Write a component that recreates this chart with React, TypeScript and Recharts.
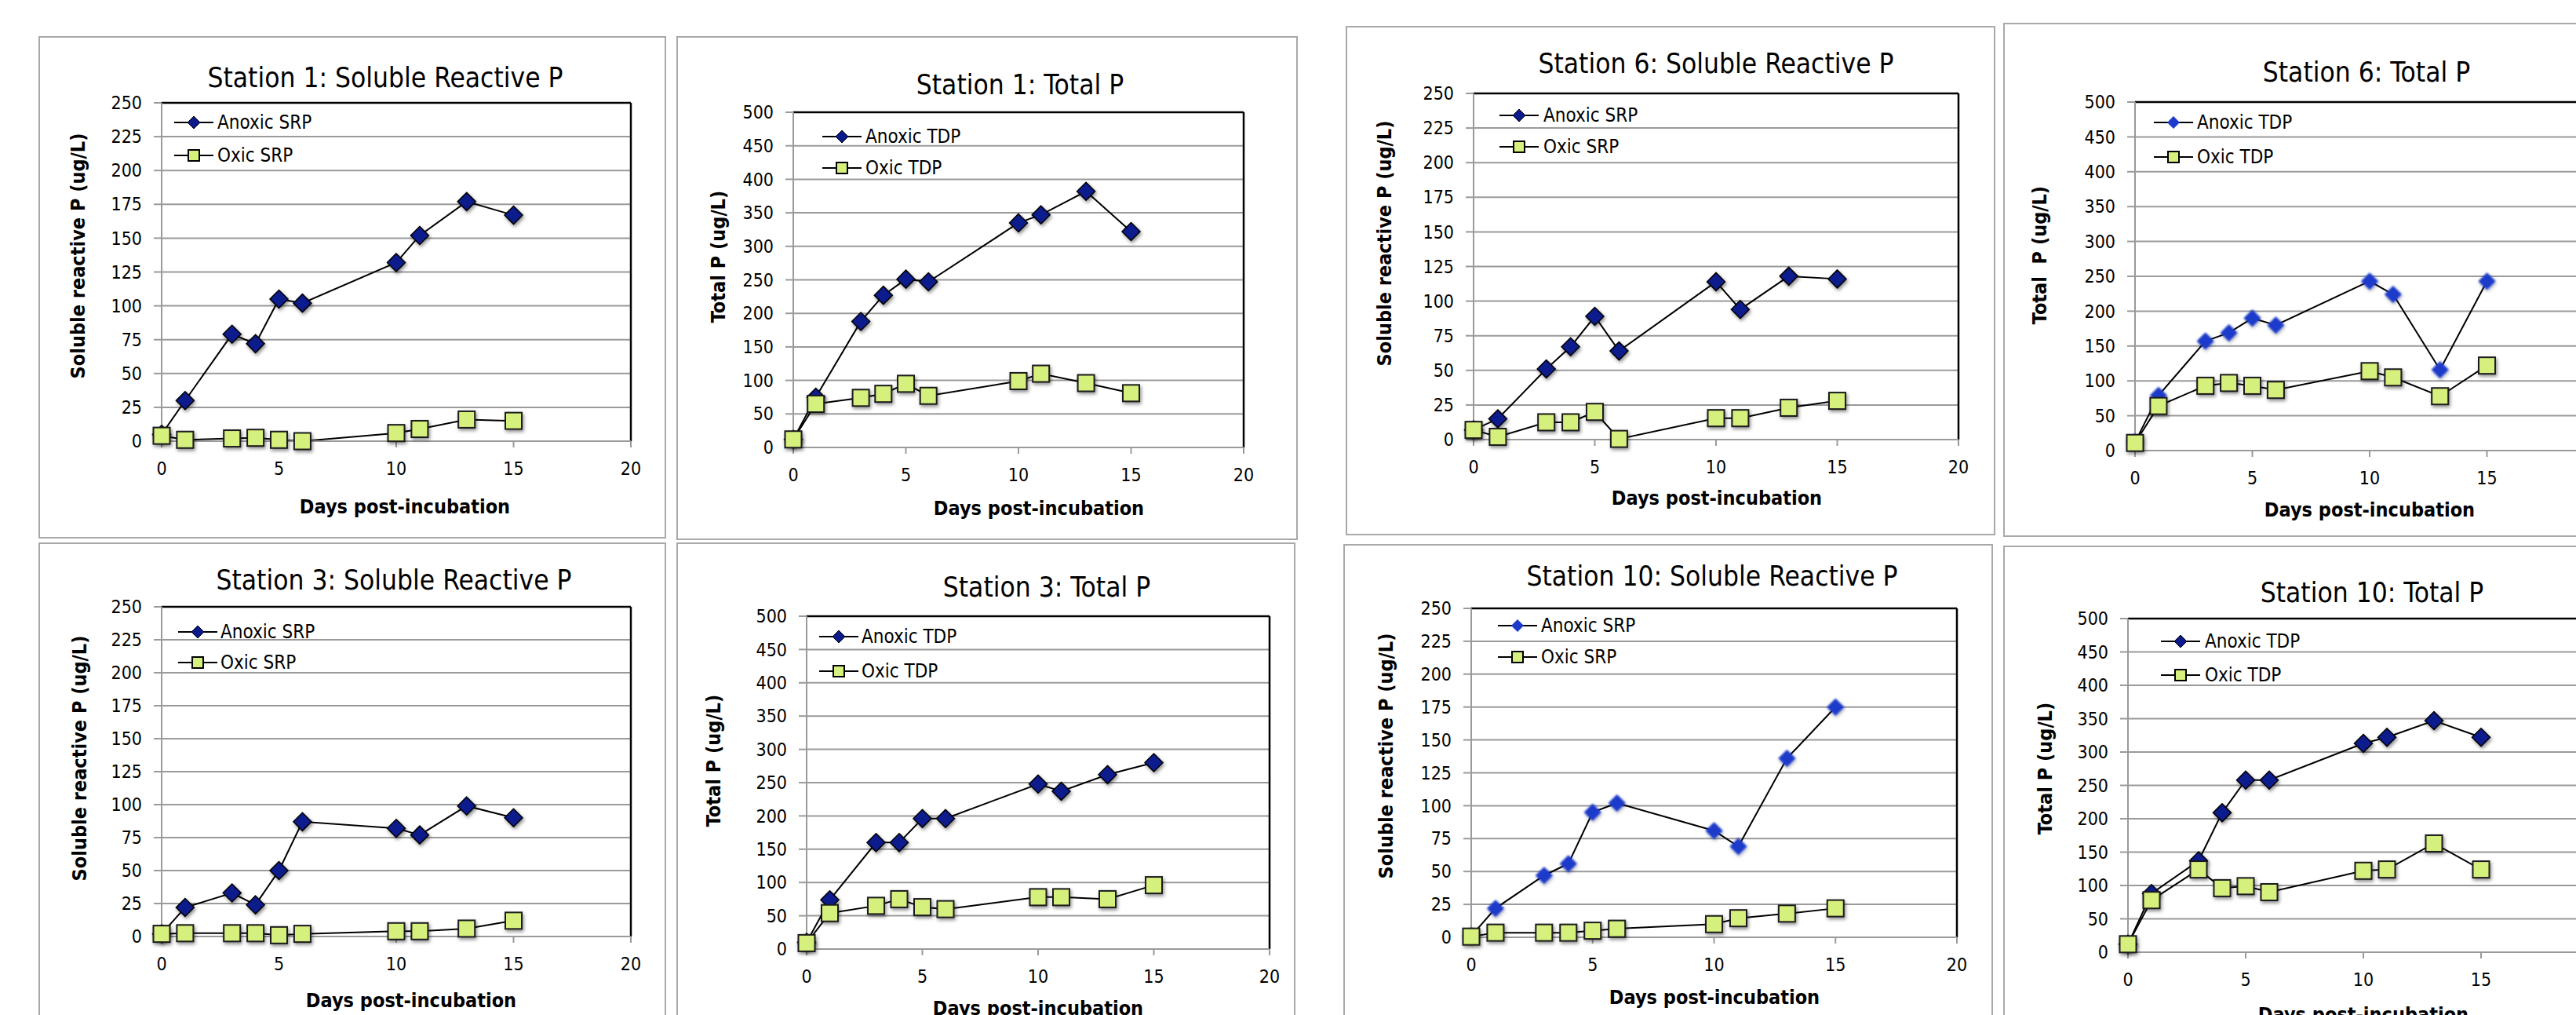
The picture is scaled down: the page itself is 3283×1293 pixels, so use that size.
import React from "react";
import {
  LineChart,
  Line,
  XAxis,
  YAxis,
  CartesianGrid,
  ReferenceLine,
} from "recharts";

// sampling days shared by every station
const DAYS = [0, 1, 3, 4, 5, 6, 10, 11, 13, 15];
const X_TICKS = [0, 5, 10, 15, 20];
const SRP_TICKS = [0, 25, 50, 75, 100, 125, 150, 175, 200, 225, 250];
const TP_TICKS = [0, 50, 100, 150, 200, 250, 300, 350, 400, 450, 500];

const S1_SRP_ANOXIC = [5, 30, 79, 72, 105, 102, 132, 152, 177, 167];
const S1_SRP_OXIC = [4, 1, 2, 2.5, 1, 0, 6, 9, 16, 15];
const S1_TP_ANOXIC = [12, 75, 188, 227, 251, 247, 335, 347, 382, 322];
const S1_TP_OXIC = [12, 65, 74, 80, 95, 77, 99, 110, 96, 81];

const S6_SRP_ANOXIC = [7, 15, 51, 67, 89, 64, 114, 94, 118, 116];
const S6_SRP_OXIC = [7, 2, 12.5, 12.5, 20, 0.5, 15.5, 15.5, 23, 28];
const S6_TP_ANOXIC = [12, 79, 157, 169, 190, 180, 243, 224, 116, 243];
const S6_TP_OXIC = [11, 64, 93, 97, 93, 87, 114, 105, 78, 122];

const S3_SRP_ANOXIC = [2, 22, 33, 24, 50, 87, 82, 77, 99, 90];
const S3_SRP_OXIC = [2, 2.5, 2.5, 2.5, 1, 2, 4, 4, 6, 12];
const S3_TP_ANOXIC = [10, 74, 160, 160, 196, 196, 248, 237, 262, 280];
const S3_TP_OXIC = [9, 54, 65, 75, 63, 60, 78, 78, 75, 96];

const S10_SRP_ANOXIC = [1, 22, 47, 56, 95, 102, 81, 69, 136, 175];
const S10_SRP_OXIC = [0.5, 3.5, 3.5, 3.5, 5, 6.5, 10, 14.5, 18, 22];
const S10_TP_ANOXIC = [12, 88, 137, 209, 258, 258, 313, 322, 347, 322];
const S10_TP_OXIC = [12, 78, 124, 96, 99, 90, 122, 124, 163, 124];

const SRP_LABEL = "Soluble reactive P (ug/L)";
const TP_LABEL = "Total P (ug/L)";
const X_LABEL = "Days post-incubation";

const GRID = "#9a9a9a";
const NAVY = "#0c1a8c";
const BRIGHT = "#1d3bcb";
const LIME = "#d6f07e";

const FONT = "'DejaVu Sans Condensed', 'Liberation Sans', Arial, sans-serif";

// page layout of the eight screenshot panels (pixels)
const PANELS = [
  {
    title: "Station 1: Soluble Reactive P", yLabel: SRP_LABEL, names: ["Anoxic SRP", "Oxic SRP"],
    ticks: SRP_TICKS, anoxic: S1_SRP_ANOXIC, oxic: S1_SRP_OXIC, bright: false,
    box: { x: 49, y: 46, w: 800, h: 640 }, plot: { x0: 206, x1: 804, y0: 131, y1: 562 },
    title_at: [491, 99], ylab: [99, 326], xlab: [516, 645], legend: [222, 277, 156, 198],
  },
  {
    title: "Station 1: Total P", yLabel: TP_LABEL, names: ["Anoxic TDP", "Oxic TDP"],
    ticks: TP_TICKS, anoxic: S1_TP_ANOXIC, oxic: S1_TP_OXIC, bright: false,
    box: { x: 862, y: 46, w: 792, h: 642 }, plot: { x0: 1011, x1: 1585, y0: 143, y1: 570 },
    title_at: [1300, 108], ylab: [915, 327], xlab: [1324, 647], legend: [1048, 1103, 174, 214],
  },
  {
    title: "Station 6: Soluble Reactive P", yLabel: SRP_LABEL, names: ["Anoxic SRP", "Oxic SRP"],
    ticks: SRP_TICKS, anoxic: S6_SRP_ANOXIC, oxic: S6_SRP_OXIC, bright: false,
    box: { x: 1715, y: 33, w: 828, h: 649 }, plot: { x0: 1878, x1: 2496, y0: 119, y1: 560 },
    title_at: [2187, 81], ylab: [1764, 310], xlab: [2188, 634], legend: [1911, 1967, 147, 187],
  },
  {
    title: "Station 6: Total P", yLabel: "Total  P (ug/L)", names: ["Anoxic TDP", "Oxic TDP"],
    ticks: TP_TICKS, anoxic: S6_TP_ANOXIC, oxic: S6_TP_OXIC, bright: true,
    box: { x: 2553, y: 29, w: 820, h: 655 }, plot: { x0: 2721, x1: 3319, y0: 130, y1: 574 },
    title_at: [3016, 92], ylab: [2599, 325], xlab: [3020, 649], legend: [2745, 2800, 156, 200],
  },
  {
    title: "Station 3: Soluble Reactive P", yLabel: SRP_LABEL, names: ["Anoxic SRP", "Oxic SRP"],
    ticks: SRP_TICKS, anoxic: S3_SRP_ANOXIC, oxic: S3_SRP_OXIC, bright: false,
    box: { x: 49, y: 691, w: 800, h: 640 }, plot: { x0: 206, x1: 804, y0: 773, y1: 1193 },
    title_at: [502, 739], ylab: [101, 966], xlab: [524, 1274], legend: [227, 281, 805, 844],
  },
  {
    title: "Station 3: Total P", yLabel: TP_LABEL, names: ["Anoxic TDP", "Oxic TDP"],
    ticks: TP_TICKS, anoxic: S3_TP_ANOXIC, oxic: S3_TP_OXIC, bright: false,
    box: { x: 862, y: 691, w: 789, h: 640 }, plot: { x0: 1028, x1: 1618, y0: 785, y1: 1209 },
    title_at: [1334, 748], ylab: [909, 969], xlab: [1323, 1284], legend: [1044, 1098, 811, 855],
  },
  {
    title: "Station 10: Soluble Reactive P", yLabel: SRP_LABEL, names: ["Anoxic SRP", "Oxic SRP"],
    ticks: SRP_TICKS, anoxic: S10_SRP_ANOXIC, oxic: S10_SRP_OXIC, bright: true,
    box: { x: 1712, y: 693, w: 828, h: 640 }, plot: { x0: 1875, x1: 2494, y0: 775, y1: 1194 },
    title_at: [2182, 734], ylab: [1766, 963], xlab: [2185, 1270], legend: [1909, 1964, 797, 837],
  },
  {
    title: "Station 10: Total P", yLabel: TP_LABEL, names: ["Anoxic TDP", "Oxic TDP"],
    ticks: TP_TICKS, anoxic: S10_TP_ANOXIC, oxic: S10_TP_OXIC, bright: false,
    box: { x: 2553, y: 695, w: 820, h: 640 }, plot: { x0: 2712, x1: 3312, y0: 788, y1: 1213 },
    title_at: [3023, 755], ylab: [2606, 979], xlab: [3012, 1292], legend: [2754, 2810, 817, 860],
  },
];

function diamondPath(cx: number, cy: number, r: number) {
  return `M${cx},${cy - r} L${cx + r},${cy} L${cx},${cy + r} L${cx - r},${cy} Z`;
}

function makeDiamond(bright: boolean) {
  return (props: any) => {
    const { cx, cy, index } = props;
    if (cx == null || cy == null) return <g key={`d${index}`} />;
    return (
      <path
        key={`d${index}`}
        d={diamondPath(cx, cy, bright ? 11 : 11.5)}
        fill={bright ? BRIGHT : NAVY}
        stroke={bright ? "none" : "#000"}
        strokeWidth={1.5}
        filter={bright ? "url(#softBlue)" : "url(#dropShadow)"}
      />
    );
  };
}

function renderSquare(props: any) {
  const { cx, cy, index } = props;
  if (cx == null || cy == null) return <g key={`s${index}`} />;
  return (
    <rect
      key={`s${index}`}
      x={cx - 10.5}
      y={cy - 10.5}
      width={21}
      height={21}
      fill={LIME}
      stroke="#1a1a1a"
      strokeWidth={2}
      filter="url(#dropShadow)"
    />
  );
}

function LegendRow({ x, tx, y, label, kind, bright }: any) {
  return (
    <div style={{ position: "absolute", left: x, top: y - 15, height: 30 }}>
      <svg width={52} height={30} style={{ position: "absolute", left: 0, top: 0 }}>
        <line x1={0} y1={15} x2={50} y2={15} stroke="#000" strokeWidth={2} />
        {kind === "diamond" ? (
          <path d={diamondPath(25, 15, 8)} fill={bright ? BRIGHT : NAVY} stroke={bright ? "none" : "#000"} strokeWidth={1} />
        ) : (
          <rect x={18} y={8} width={14} height={14} fill={LIME} stroke="#000" strokeWidth={2} />
        )}
      </svg>
      <span
        style={{
          position: "absolute",
          left: tx - x,
          top: 0,
          lineHeight: "30px",
          fontSize: 24,
          whiteSpace: "nowrap",
          color: "#000",
        }}
      >
        {label}
      </span>
    </div>
  );
}

function Panel({ p }: { p: (typeof PANELS)[number] }) {
  const { box, plot } = p;
  const rows = DAYS.map((d, i) => ({ day: d, anoxic: p.anoxic[i], oxic: p.oxic[i] }));
  const yMax = p.ticks[p.ticks.length - 1];
  const [lx, tx, r1, r2] = p.legend;

  return (
    <>
      <div
        style={{
          position: "absolute",
          left: box.x,
          top: box.y,
          width: box.w,
          height: box.h,
          border: "2px solid #a9a9a9",
          boxSizing: "border-box",
          background: "#fff",
        }}
      />
      <div style={{ position: "absolute", left: box.x, top: box.y }}>
        <LineChart
          width={box.w}
          height={box.h}
          data={rows}
          margin={{ top: plot.y0 - box.y, right: box.x + box.w - plot.x1, bottom: 0, left: 0 }}
        >
          <CartesianGrid vertical={false} stroke={GRID} strokeWidth={2} />
          <XAxis
            type="number"
            dataKey="day"
            domain={[0, 20]}
            ticks={X_TICKS}
            interval={0}
            height={box.y + box.h - plot.y1}
            tickSize={8}
            tickMargin={19}
            axisLine={{ stroke: GRID, strokeWidth: 2 }}
            tickLine={{ stroke: GRID, strokeWidth: 2 }}
            tick={{ fill: "#000", fontSize: 23 }}
          />
          <YAxis
            type="number"
            domain={[0, yMax]}
            ticks={p.ticks}
            interval={0}
            width={plot.x0 - box.x}
            tickSize={10}
            tickMargin={15}
            axisLine={{ stroke: GRID, strokeWidth: 2 }}
            tickLine={{ stroke: GRID, strokeWidth: 2 }}
            tick={{ fill: "#000", fontSize: 23 }}
          />
          <ReferenceLine y={yMax} stroke="#000" strokeWidth={2.5} />
          <ReferenceLine x={20} stroke="#000" strokeWidth={2.5} />
          <Line
            type="linear"
            dataKey="anoxic"
            stroke="#000"
            strokeWidth={2}
            dot={makeDiamond(p.bright)}
            activeDot={false}
            isAnimationActive={false}
          />
          <Line
            type="linear"
            dataKey="oxic"
            stroke="#000"
            strokeWidth={2}
            dot={renderSquare}
            activeDot={false}
            isAnimationActive={false}
          />
        </LineChart>
      </div>
      <div
        style={{
          position: "absolute",
          left: p.title_at[0],
          top: p.title_at[1],
          transform: "translate(-50%, -50%)",
          fontSize: 35,
          lineHeight: 1,
          whiteSpace: "nowrap",
          color: "#000",
        }}
      >
        {p.title}
      </div>
      <div
        style={{
          position: "absolute",
          left: p.ylab[0],
          top: p.ylab[1],
          transform: "translate(-50%, -50%) rotate(-90deg)",
          fontSize: 25,
          fontWeight: "bold",
          lineHeight: 1,
          whiteSpace: "pre",
          color: "#000",
        }}
      >
        {p.yLabel}
      </div>
      <div
        style={{
          position: "absolute",
          left: p.xlab[0],
          top: p.xlab[1],
          transform: "translate(-50%, -50%)",
          fontSize: 25,
          fontWeight: "bold",
          lineHeight: 1,
          whiteSpace: "nowrap",
          color: "#000",
        }}
      >
        {X_LABEL}
      </div>
      <LegendRow x={lx} tx={tx} y={r1} label={p.names[0]} kind="diamond" bright={p.bright} />
      <LegendRow x={lx} tx={tx} y={r2} label={p.names[1]} kind="square" bright={p.bright} />
    </>
  );
}

export default function App() {
  return (
    <div
      style={{
        position: "absolute",
        left: 0,
        top: 0,
        width: 3283,
        height: 1293,
        overflow: "hidden",
        background: "#fff",
        fontFamily: FONT,
      }}
    >
      <svg width={0} height={0} style={{ position: "absolute" }}>
        <defs>
          <filter id="dropShadow" x="-50%" y="-50%" width="200%" height="200%">
            <feDropShadow dx={1.5} dy={2.5} stdDeviation={2} floodColor="#000" floodOpacity={0.45} />
          </filter>
          <filter id="softBlue" x="-50%" y="-50%" width="200%" height="200%">
            <feGaussianBlur in="SourceGraphic" stdDeviation={0.9} result="b" />
            <feDropShadow in="b" dx={1} dy={2} stdDeviation={2} floodColor="#000" floodOpacity={0.35} />
          </filter>
        </defs>
      </svg>
      {PANELS.map((p) => (
        <Panel key={p.title} p={p} />
      ))}
    </div>
  );
}
